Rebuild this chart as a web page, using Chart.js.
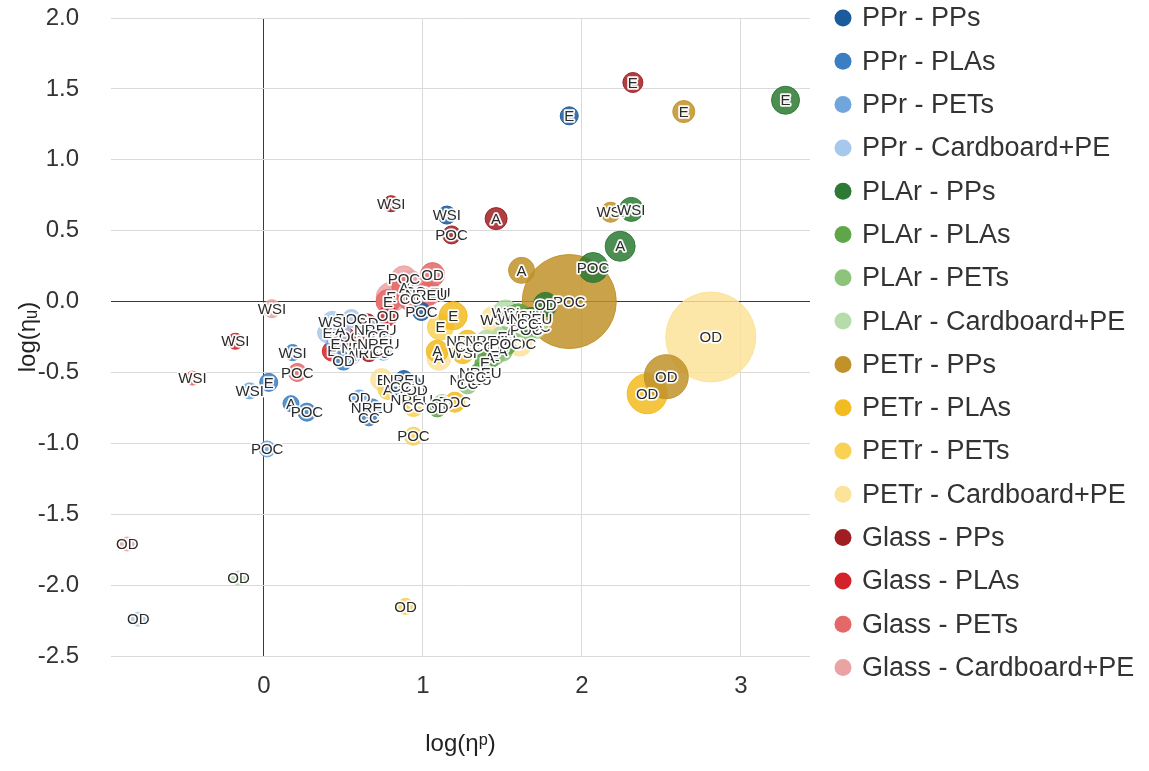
<!DOCTYPE html>
<html>
<head>
<meta charset="utf-8">
<script src="https://cdn.jsdelivr.net/npm/chart.js@4/dist/chart.umd.min.js"></script>
<style>
  html, body { margin: 0; padding: 0; background: #ffffff; }
  #wrap { width: 1149px; height: 771px; }
</style>
</head>
<body>
<div id="wrap"><canvas id="chart" width="1149" height="771"></canvas></div>
<script>
// Impact categories, in the order used by every series below
const indicators = ['A', 'E', 'OD', 'POC', 'WSI', 'NREU', 'CC'];

// Tick values for the two axes
const xTickValues = [0, 1, 2, 3];
const yTickValues = [-2.5, -2.0, -1.5, -1.0, -0.5, 0.0, 0.5, 1.0, 1.5, 2.0];

// Series names (reusable material - single-use material)
const seriesNames = [
  'PPr - PPs', 'PPr - PLAs', 'PPr - PETs', 'PPr - Cardboard+PE',
  'PLAr - PPs', 'PLAr - PLAs', 'PLAr - PETs', 'PLAr - Cardboard+PE',
  'PETr - PPs', 'PETr - PLAs', 'PETr - PETs', 'PETr - Cardboard+PE',
  'Glass - PPs', 'Glass - PLAs', 'Glass - PETs', 'Glass - Cardboard+PE'
];

// log(eta_p), log(eta_u) and bubble weight per indicator
const PPr_PPs_x = [0.93, 1.92, 0.96, 0.99, 1.15, 0.88, 0.86];
const PPr_PPs_y = [-0.58, 1.31, -0.62, -0.07, 0.61, -0.55, -0.60];
const PPr_PPs_w = [9, 9, 8, 9, 9, 9, 9];

const PPr_PLAs_x = [0.17, 0.03, 0.50, 0.27, 0.18, 0.68, 0.66];
const PPr_PLAs_y = [-0.72, -0.57, -0.42, -0.78, -0.36, -0.75, -0.82];
const PPr_PLAs_w = [8, 9, 9, 9, 8, 9, 8];

const PPr_PETs_x = [0.55, 0.45, 0.60, 0.02, -0.09, 0.72, 0.75];
const PPr_PETs_y = [-0.38, -0.30, -0.68, -1.04, -0.63, -0.30, -0.35];
const PPr_PETs_w = [9, 9, 8, 8, 8, 9, 9];

const PPr_Card_x = [0.48, 0.40, -0.79, 0.55, 0.43, 0.70, 0.72];
const PPr_Card_y = [-0.20, -0.22, -2.24, -0.12, -0.14, -0.20, -0.24];
const PPr_Card_w = [10, 10, 7, 9, 10, 9, 9];

const PLAr_PPs_x = [2.24, 3.28, 1.77, 2.07, 2.31, 1.68, 1.66];
const PLAr_PPs_y = [0.39, 1.42, -0.02, 0.24, 0.65, -0.12, -0.16];
const PLAr_PPs_w = [15, 14, 12, 15, 12, 11, 11];

const PLAr_PLAs_x = [1.42, 1.39, 1.09, 1.52, 1.60, 1.36, 1.33];
const PLAr_PLAs_y = [-0.40, -0.43, -0.75, -0.30, -0.10, -0.50, -0.53];
const PLAr_PLAs_w = [10, 10, 9, 11, 12, 10, 10];

const PLAr_PETs_x = [1.50, 1.45, 1.12, 1.65, 1.56, 1.30, 1.28];
const PLAr_PETs_y = [-0.35, -0.38, -0.72, -0.20, -0.12, -0.55, -0.58];
const PLAr_PETs_w = [10, 10, 9, 12, 13, 10, 10];

const PLAr_Card_x = [1.55, 1.50, -0.16, 1.70, 1.52, 1.40, 1.38];
const PLAr_Card_y = [-0.22, -0.25, -1.95, -0.18, -0.08, -0.28, -0.32];
const PLAr_Card_w = [11, 11, 7, 12, 13, 11, 11];

const PETr_PPs_x = [1.62, 2.64, 2.53, 1.92, 2.18, 1.62, 1.60];
const PETr_PPs_y = [0.22, 1.34, -0.53, 0.00, 0.63, -0.10, -0.14];
const PETr_PPs_w = [13, 11, 22, 47, 10, 11, 11];

const PETr_PLAs_x = [1.09, 1.19, 2.41, 1.20, 1.25, 1.28, 1.27];
const PETr_PLAs_y = [-0.35, -0.10, -0.65, -0.71, -0.36, -0.28, -0.32];
const PETr_PLAs_w = [11, 14, 20, 10, 11, 11, 11];

const PETr_PETs_x = [0.78, 1.11, 0.89, 0.94, 0.93, 0.93, 0.94];
const PETr_PETs_y = [-0.62, -0.18, -2.15, -0.95, -0.61, -0.69, -0.74];
const PETr_PETs_w = [10, 13, 8, 9, 10, 10, 10];

const PETr_Card_x = [1.10, 0.74, 2.81, 1.61, 1.45, 1.45, 1.47];
const PETr_Card_y = [-0.40, -0.55, -0.25, -0.30, -0.13, -0.28, -0.33];
const PETr_Card_w = [12, 11, 45, 12, 14, 12, 12];

const Glass_PPs_x = [1.46, 2.32, 0.65, 1.18, 0.80, 0.66, 0.74];
const Glass_PPs_y = [0.585, 1.545, -0.15, 0.47, 0.69, -0.36, -0.27];
const Glass_PPs_w = [11, 10, 9, 9, 8, 9, 9];

const Glass_PLAs_x = [0.60, 0.43, 0.78, 0.51, -0.18, 0.62, 0.70];
const Glass_PLAs_y = [-0.28, -0.35, -0.10, -0.25, -0.28, -0.33, -0.22];
const Glass_PLAs_w = [10, 10, 10, 10, 8, 10, 10];

const Glass_PETs_x = [0.88, 0.78, 1.06, 0.21, -0.45, 1.02, 0.92];
const Glass_PETs_y = [0.10, 0.00, 0.19, -0.50, -0.54, 0.05, 0.02];
const Glass_PETs_w = [12, 12, 12, 9, 7, 12, 12];

const Glass_Card_x = [0.92, 0.80, -0.86, 0.88, 0.05, 1.04, 0.95];
const Glass_Card_y = [0.12, 0.03, -1.71, 0.16, -0.05, 0.06, 0.07];
const Glass_Card_w = [14, 15, 7, 13, 9, 12, 12];

const seriesX = [PPr_PPs_x, PPr_PLAs_x, PPr_PETs_x, PPr_Card_x, PLAr_PPs_x, PLAr_PLAs_x, PLAr_PETs_x, PLAr_Card_x,
                 PETr_PPs_x, PETr_PLAs_x, PETr_PETs_x, PETr_Card_x, Glass_PPs_x, Glass_PLAs_x, Glass_PETs_x, Glass_Card_x];
const seriesY = [PPr_PPs_y, PPr_PLAs_y, PPr_PETs_y, PPr_Card_y, PLAr_PPs_y, PLAr_PLAs_y, PLAr_PETs_y, PLAr_Card_y,
                 PETr_PPs_y, PETr_PLAs_y, PETr_PETs_y, PETr_Card_y, Glass_PPs_y, Glass_PLAs_y, Glass_PETs_y, Glass_Card_y];
const seriesW = [PPr_PPs_w, PPr_PLAs_w, PPr_PETs_w, PPr_Card_w, PLAr_PPs_w, PLAr_PLAs_w, PLAr_PETs_w, PLAr_Card_w,
                 PETr_PPs_w, PETr_PLAs_w, PETr_PETs_w, PETr_Card_w, Glass_PPs_w, Glass_PLAs_w, Glass_PETs_w, Glass_Card_w];

// Palette: blues for PP, greens for PLA, golds for PET, reds for glass
const seriesColors = [
  '#1b5a9b', '#3a7fc1', '#70a6dc', '#a6c8ec',
  '#2d7a34', '#5ea648', '#8cc47c', '#b5dcaa',
  '#c1922a', '#f2bb20', '#f8d155', '#fbe39a',
  '#a01e22', '#d4222a', '#e46868', '#eba2a2'
];

const FONT = '"Liberation Sans", Arial, Helvetica, sans-serif';

function withAlpha(hex, a) {
  const n = parseInt(hex.slice(1), 16);
  return `rgba(${(n >> 16) & 255}, ${(n >> 8) & 255}, ${n & 255}, ${a})`;
}

const datasets = seriesNames.map((name, s) => ({
  label: name,
  data: indicators.map((ind, i) => ({ x: seriesX[s][i], y: seriesY[s][i], r: seriesW[s][i], tag: ind })),
  backgroundColor: withAlpha(seriesColors[s], 0.85),
  borderColor: withAlpha(seriesColors[s], 0.95),
  borderWidth: 1,
  swatch: seriesColors[s]
}));

// Indicator names written on top of each bubble, with a white halo
const bubbleTags = {
  id: 'bubbleTags',
  afterDatasetsDraw(chart) {
    const ctx = chart.ctx;
    ctx.save();
    ctx.font = '15px ' + FONT;
    ctx.textAlign = 'center';
    ctx.textBaseline = 'middle';
    ctx.lineJoin = 'round';
    for (let d = chart.data.datasets.length - 1; d >= 0; d--) {
      const meta = chart.getDatasetMeta(d);
      meta.data.forEach((el, i) => {
        const tag = chart.data.datasets[d].data[i].tag;
        ctx.strokeStyle = 'rgba(255,255,255,0.95)';
        ctx.lineWidth = 3.5;
        ctx.strokeText(tag, el.x, el.y + 1);
        ctx.fillStyle = '#2b2b2b';
        ctx.fillText(tag, el.x, el.y + 1);
      });
    }
    ctx.restore();
  }
};

// Series key in a single column to the right of the plot
const seriesKey = {
  id: 'seriesKey',
  afterDraw(chart) {
    const ctx = chart.ctx;
    const left = chart.chartArea.right + 33;
    const top = chart.chartArea.top;
    const step = 43.3;
    ctx.save();
    ctx.font = '27px ' + FONT;
    ctx.textAlign = 'left';
    ctx.textBaseline = 'middle';
    chart.data.datasets.forEach((ds, i) => {
      const y = top + i * step;
      ctx.beginPath();
      ctx.arc(left, y, 8.5, 0, Math.PI * 2);
      ctx.fillStyle = ds.swatch;
      ctx.fill();
      ctx.fillStyle = '#333333';
      ctx.fillText(ds.label, left + 19, y + 1);
    });
    ctx.restore();
  }
};

const gridColor = (ctx) => (ctx.tick && ctx.tick.value === 0) ? '#3a3a3a' : '#dadada';

new Chart(document.getElementById('chart'), {
  type: 'bubble',
  data: { datasets },
  plugins: [bubbleTags, seriesKey],
  options: {
    responsive: false,
    animation: false,
    devicePixelRatio: 1,
    events: [],
    layout: { autoPadding: false, padding: { top: 18, right: 339, bottom: 0, left: 0 } },
    plugins: {
      legend: { display: false },
      tooltip: { enabled: false }
    },
    scales: {
      x: {
        type: 'linear',
        min: -0.962,
        max: 3.434,
        afterBuildTicks: (scale) => { scale.ticks = xTickValues.map(v => ({ value: v })); },
        afterFit: (scale) => { scale.height = 115; },
        ticks: {
          color: '#333333',
          font: { family: FONT, size: 24 },
          padding: 16,
          callback: (v) => String(v)
        },
        grid: { color: gridColor, lineWidth: 1, drawTicks: false },
        border: { display: false },
        title: {
          display: true,
          text: 'log(η\u1D56)',
          color: '#222222',
          font: { family: FONT, size: 24 },
          padding: { top: 0, bottom: 12 }
        }
      },
      y: {
        type: 'linear',
        min: -2.5,
        max: 2.0,
        afterBuildTicks: (scale) => { scale.ticks = yTickValues.map(v => ({ value: v })); },
        afterFit: (scale) => { scale.width = 111; },
        ticks: {
          color: '#333333',
          font: { family: FONT, size: 24 },
          padding: 3.5,
          callback: (v) => Number(v).toFixed(1)
        },
        grid: { color: gridColor, lineWidth: 1, drawTicks: true, tickLength: 28.5, tickColor: 'rgba(0,0,0,0)' },
        border: { display: false },
        title: {
          display: true,
          text: 'log(η\u1D64)',
          color: '#222222',
          font: { family: FONT, size: 24 },
          padding: { top: 14, bottom: 0 }
        }
      }
    }
  }
});
</script>
</body>
</html>
